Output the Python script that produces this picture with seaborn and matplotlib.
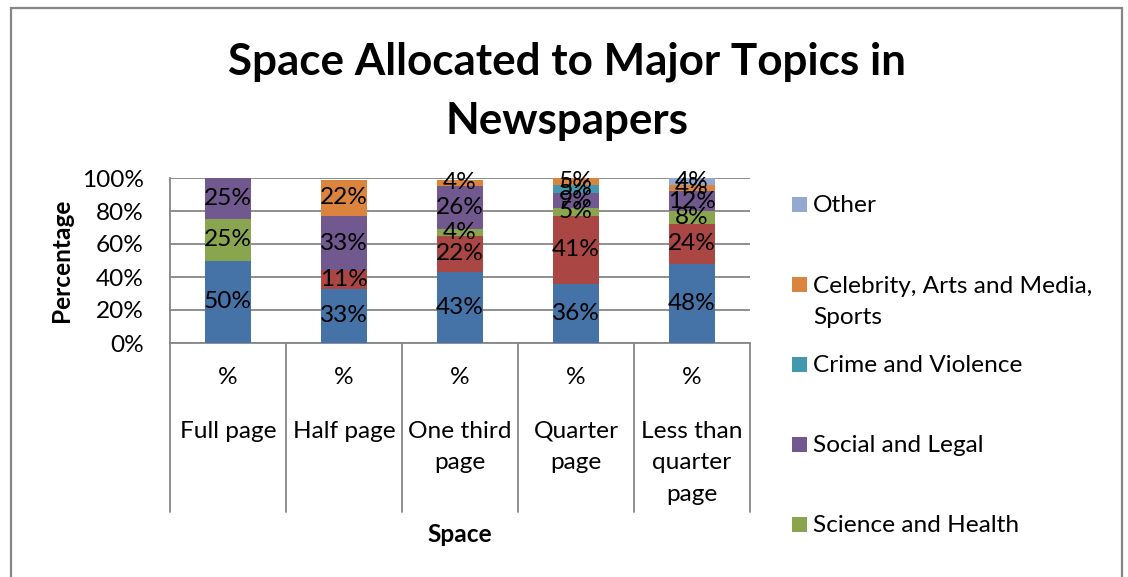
import matplotlib
matplotlib.use("Agg")
import matplotlib.pyplot as plt
from matplotlib.patches import Rectangle
import seaborn as sns
import pandas as pd
import numpy as np

# Page-space categories and the share of each topic (percent)
categories = ["Full page", "Half page", "One third\npage", "Quarter\npage", "Less than\nquarter\npage"]
politics = [50, 33, 43, 36, 48]
economy = [0, 11, 22, 41, 24]
science_health = [25, 0, 4, 5, 8]
social_legal = [25, 33, 26, 9, 12]
crime_violence = [0, 0, 0, 5, 0]
celebrity_arts = [0, 22, 4, 5, 4]
other = [0, 0, 0, 0, 4]

series_names = ["Politics and Government", "Economy and Business", "Science and Health",
                "Social and Legal", "Crime and Violence",
                "Celebrity, Arts and Media,\nSports", "Other"]
series_values = [politics, economy, science_health, social_legal,
                 crime_violence, celebrity_arts, other]
colors = ["#4572A7", "#AA4643", "#89A54E", "#71588F", "#4198AF", "#DB843D", "#93A9CF"]

sns.set_theme(style="white")
plt.rcParams["font.family"] = ["Lato", "DejaVu Sans"]
for key in ["text.color", "axes.labelcolor", "xtick.color", "ytick.color"]:
    plt.rcParams[key] = "black"

W, H = 1128, 577
fig = plt.figure(figsize=(W / 100, H / 100), dpi=100)
ax = fig.add_axes([170 / W, 1 - 343 / H, 580 / W, 165 / H])

grey = "#868686"
fs = 17.6

bottom = np.zeros(len(categories))
for name, vals, col in zip(series_names, series_values, colors):
    df = pd.DataFrame({"Space": categories, "Percentage": vals})
    sns.barplot(data=df, x="Space", y="Percentage", color=col, width=0.4,
                bottom=bottom.copy(), ax=ax, saturation=1, linewidth=0,
                zorder=3)
    bottom += np.array(vals, dtype=float)

# data labels centred in each segment
for cont, vals in zip(ax.containers, series_values):
    ax.bar_label(cont, labels=[f"{v}%" if v > 0 else "" for v in vals],
                 label_type="center", fontsize=fs, color="black", zorder=5)

ax.set_xlim(-0.5, len(categories) - 0.5)
ax.set_ylim(0, 100)
ax.set_yticks(np.arange(0, 101, 20))
ax.set_yticklabels([f"{t}%" for t in range(0, 101, 20)], fontsize=fs)
ax.yaxis.grid(True, color=grey, lw=1.3, zorder=0)
ax.set_axisbelow(True)
ax.tick_params(axis="y", direction="out", length=7, width=1.3, color=grey, pad=12)
ax.tick_params(axis="x", length=0, pad=56)
ax.set_xticks(range(len(categories)))
ax.set_xticklabels(categories, fontsize=fs, linespacing=1.62, va="top")

for s in ["top", "right"]:
    ax.spines[s].set_visible(False)
for s in ["left", "bottom"]:
    ax.spines[s].set_color(grey)
    ax.spines[s].set_linewidth(1.3)

# multi-level category axis: "%" row and separators
for i in range(len(categories)):
    ax.text(i, -0.212, "%", transform=ax.get_xaxis_transform(), ha="center",
            va="center", fontsize=fs)
for b in np.arange(-0.5, len(categories)):
    ax.axvline(b, ymin=-1.024, ymax=0, color=grey, lw=1.3, clip_on=False)

ax.set_ylabel("Percentage", fontsize=fs, fontweight="bold", labelpad=6)
ax.set_xlabel("Space", fontsize=fs, fontweight="bold", labelpad=13)

fig.suptitle("Space Allocated to Major Topics in\nNewspapers", x=567 / W, y=1 - 42 / H,
             fontsize=31.7, fontweight="bold", linespacing=1.57, va="top")

# legend column, newest series first; wrapped labels continue one line lower
step = 80 / H
line_pitch = 32 / H
y0 = 1 - 204 / H
for k, (name, col) in enumerate(zip(series_names[::-1][:5], colors[::-1][:5])):
    yc = y0 - k * step
    fig.patches.append(Rectangle((792 / W, yc - 7.5 / H), 15 / W, 15 / H,
                                 transform=fig.transFigure, facecolor=col,
                                 edgecolor="none"))
    for j, line in enumerate(name.split("\n")):
        fig.text(813 / W, yc - j * line_pitch, line, fontsize=fs,
                 va="center_baseline", ha="left")

# chart frame
fig.patches.append(Rectangle((11 / W, -0.2), 1111 / W, 1.2 - 8 / H,
                             transform=fig.transFigure, fill=False,
                             edgecolor=grey, lw=1.6))

fig.savefig("out.png", dpi=100)
